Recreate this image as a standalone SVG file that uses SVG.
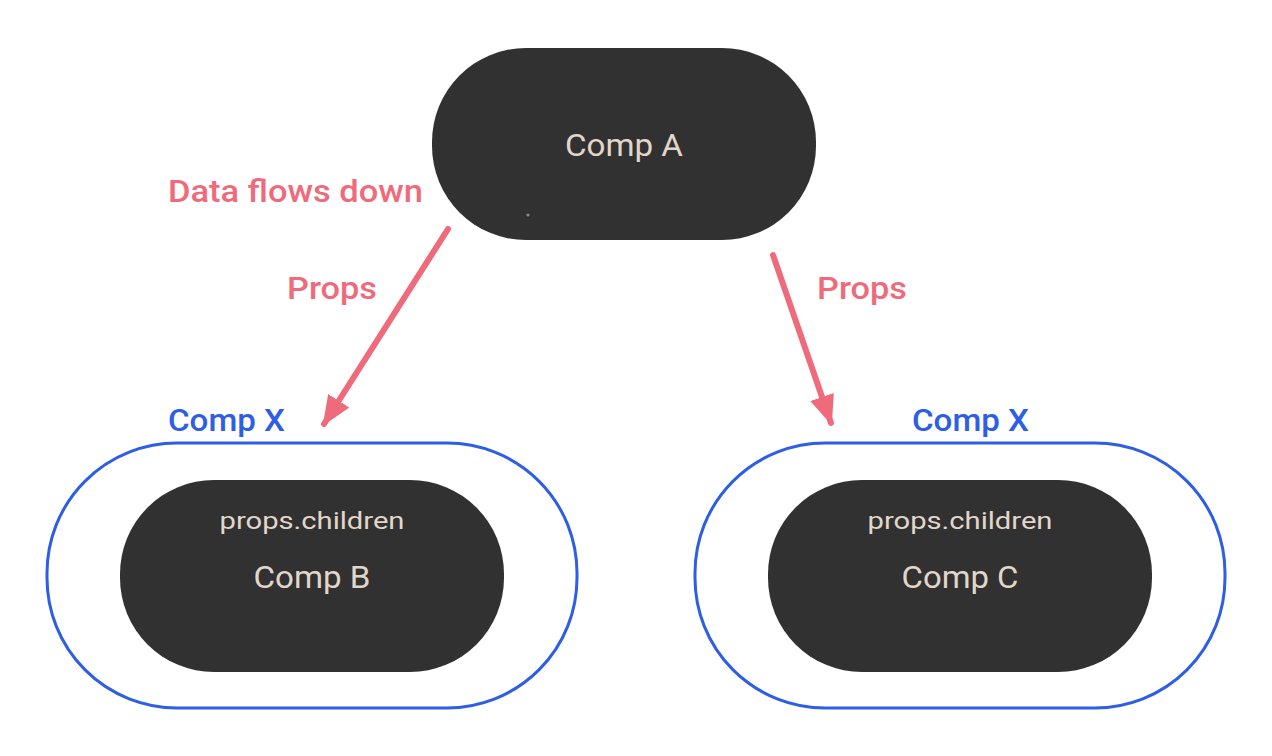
<svg xmlns="http://www.w3.org/2000/svg" width="1272" height="756" viewBox="0 0 1272 756">
<style>
.dark{fill:#313131}
.outer{fill:none;stroke:#2e5de6;stroke-width:3}
.lt{font-family:Roboto,"Noto Sans",sans-serif;fill:#e2d6ca;text-anchor:middle}
.big{font-size:31px}
.small{font-size:24px}
.pink{font-family:Roboto,"Noto Sans",sans-serif;fill:#ef6b7b;font-size:31px;font-weight:500}
.blue{font-family:Roboto,"Noto Sans",sans-serif;fill:#2e5de6;font-size:31px;font-weight:500}
.arrow{stroke:#ef6b7b;stroke-width:6;stroke-linecap:round;fill:none}
</style>
<defs>
<marker id="ah" markerUnits="userSpaceOnUse" markerWidth="30" markerHeight="30" refX="22" refY="10" orient="auto" viewBox="0 0 24 20">
<path d="M0,0 L24,10 L0,20 Z" fill="#ef6b7b"/>
</marker>
</defs>
<rect width="1272" height="756" fill="#ffffff"/>
<g id="compA">
<rect class="dark" x="432" y="48" width="384" height="192" rx="94" ry="94"/>
<circle cx="528" cy="215" r="1.6" fill="#8a8a8a"/>
<text class="lt big" x="624" y="156" textLength="118" lengthAdjust="spacingAndGlyphs">Comp A</text>
</g>
<g id="compX-left">
<rect class="outer" x="47" y="443" width="530" height="265" rx="130" ry="130"/>
<text class="blue" x="168" y="431" textLength="117" lengthAdjust="spacingAndGlyphs">Comp X</text>
</g>
<g id="compB">
<rect class="dark" x="120" y="480" width="384" height="192" rx="94" ry="94"/>
<text class="lt small" x="312" y="529" textLength="185" lengthAdjust="spacingAndGlyphs">props.children</text>
<text class="lt big" x="312" y="588" textLength="117" lengthAdjust="spacingAndGlyphs">Comp B</text>
</g>
<g id="compX-right">
<rect class="outer" x="695" y="443" width="530" height="265" rx="130" ry="130"/>
<text class="blue" x="912" y="431" textLength="117" lengthAdjust="spacingAndGlyphs">Comp X</text>
</g>
<g id="compC">
<rect class="dark" x="768" y="480" width="384" height="192" rx="94" ry="94"/>
<text class="lt small" x="960" y="529" textLength="185" lengthAdjust="spacingAndGlyphs">props.children</text>
<text class="lt big" x="960" y="588" textLength="117" lengthAdjust="spacingAndGlyphs">Comp C</text>
</g>
<g id="labels">
<text class="pink" x="168" y="202" textLength="255" lengthAdjust="spacingAndGlyphs">Data flows down</text>
</g>
<g id="connectors">
<line class="arrow" x1="448" y1="229" x2="324" y2="424" marker-end="url(#ah)"/>
<text class="pink" x="287" y="299" textLength="90" lengthAdjust="spacingAndGlyphs">Props</text>
<line class="arrow" x1="773" y1="255" x2="831" y2="423" marker-end="url(#ah)"/>
<text class="pink" x="817" y="299" textLength="90" lengthAdjust="spacingAndGlyphs">Props</text>
</g>
</svg>
